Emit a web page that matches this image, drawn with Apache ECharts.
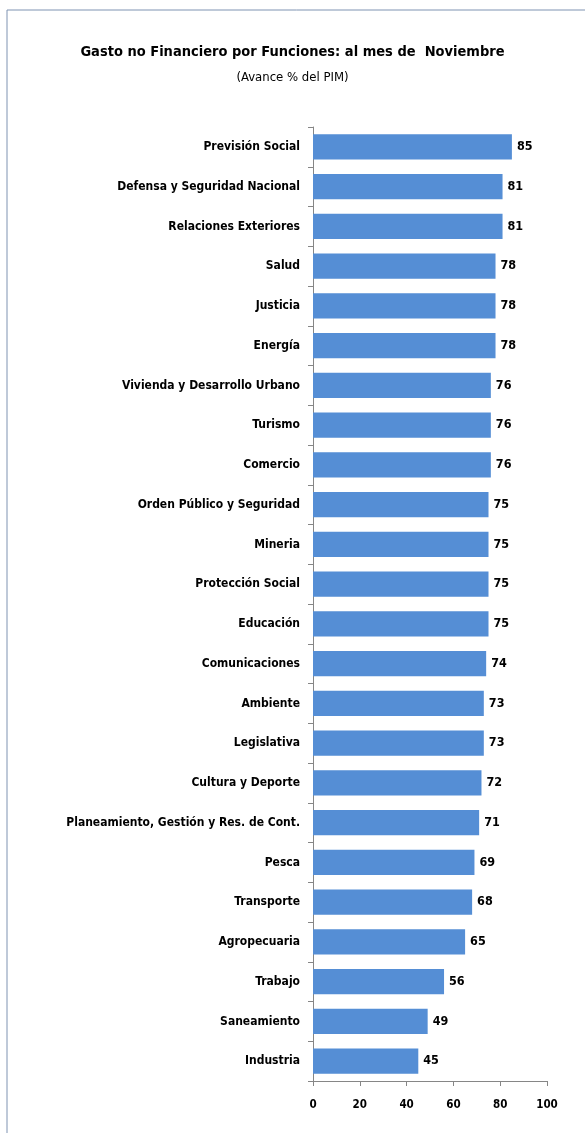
<!DOCTYPE html>
<html><head><meta charset="utf-8">
<script src="https://cdn.jsdelivr.net/npm/echarts@6/dist/echarts.min.js"></script>
<style>html,body{margin:0;padding:0;background:#fff;}#c{width:585px;height:1133px;}</style>
</head><body><div id="c"></div>
<script>
const categories = ["Previsión Social","Defensa y Seguridad Nacional","Relaciones Exteriores","Salud","Justicia","Energía","Vivienda y Desarrollo Urbano","Turismo","Comercio","Orden Público y Seguridad","Mineria","Protección Social","Educación","Comunicaciones","Ambiente","Legislativa","Cultura y Deporte","Planeamiento, Gestión y Res. de Cont.","Pesca","Transporte","Agropecuaria","Trabajo","Saneamiento","Industria"];
const values = [85,81,81,78,78,78,76,76,76,75,75,75,75,74,73,73,72,71,69,68,65,56,49,45];
const xTicks = [0,20,40,60,80,100];
const titleText = "Gasto no Financiero por Funciones: al mes de  Noviembre";
const subtitleText = "(Avance % del PIM)";

const FONT = '"DejaVu Sans Condensed","Liberation Sans",sans-serif';
const chart = echarts.init(document.getElementById('c'));
chart.setOption({
  animation:false,
  title:{text:titleText, subtext:subtitleText, left:'center', top:40, itemGap:11,
    textStyle:{fontFamily:FONT,fontWeight:'bold',fontSize:14.5,color:'#000'},
    subtextStyle:{fontFamily:FONT,fontSize:13,color:'#000'}},
  graphic:[{type:'rect',shape:{x:7,y:10,width:620,height:1200},style:{fill:'none',stroke:'#7F93B2',lineWidth:1},silent:true}],
  grid:{left:313,right:38,top:127,bottom:52,containLabel:false},
  xAxis:{type:'value',min:0,max:100,interval:20,
    axisLine:{show:true,lineStyle:{color:'#868686'}},
    axisTick:{show:true,length:5,lineStyle:{color:'#868686'}},
    splitLine:{show:false},
    axisLabel:{margin:18,fontFamily:FONT,fontWeight:'bold',fontSize:11.5,color:'#000',
      formatter:v=>xTicks.includes(v)?String(v):''}},
  yAxis:{type:'category',data:categories,inverse:true,
    axisLine:{show:true,lineStyle:{color:'#868686'}},
    axisTick:{show:true,length:5,lineStyle:{color:'#868686'}},
    axisLabel:{margin:13,fontFamily:FONT,fontWeight:'bold',fontSize:12,color:'#000'}},
  series:[{type:'bar',data:values,barWidth:'63%',
    itemStyle:{color:'#558ED5'},
    label:{show:true,position:'right',distance:5,fontFamily:FONT,fontWeight:'bold',fontSize:12.5,color:'#000'}}]
});
</script></body></html>
